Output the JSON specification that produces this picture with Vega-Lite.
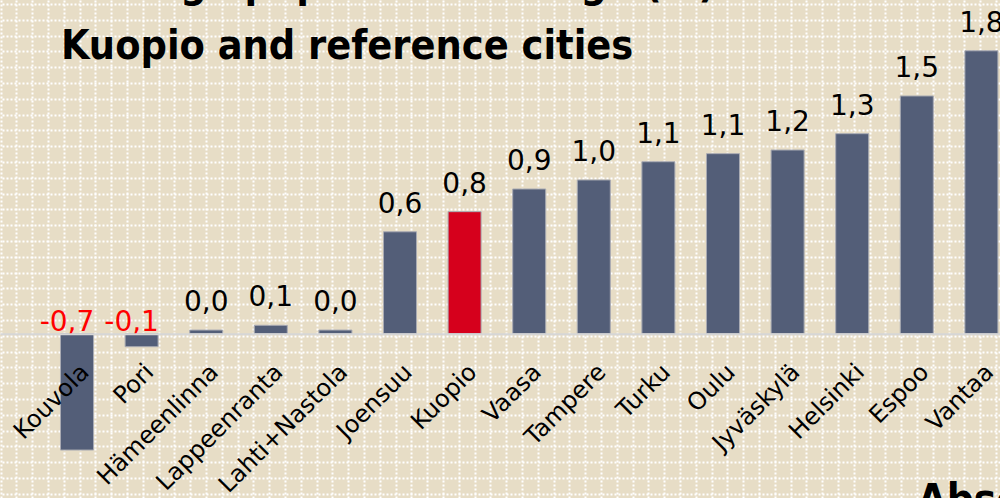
{
  "$schema": "https://vega.github.io/schema/vega-lite/v6.json",
  "width": 1000,
  "height": 498,
  "autosize": {"type": "none"},
  "padding": 0,
  "background": "#e7ddc6",
  "config": {
    "view": {"stroke": null},
    "font": "DejaVu Sans",
    "locale": {"number": {"decimal": ",", "thousands": " ", "grouping": [3], "currency": ["", " €"], "minus": "-"}}
  },
  "title": {
    "text": ["Average population change (%)", "Kuopio and reference cities"],
    "anchor": "start",
    "frame": "group",
    "orient": "top",
    "baseline": "alphabetic",
    "lineHeight": 62,
    "offset": -100,
    "dx": 61,
    "font": "DejaVu Sans Condensed, Liberation Sans Narrow, DejaVu Sans",
    "fontSize": 41,
    "fontWeight": "bold",
    "color": "#000000"
  },
  "data": {
    "values": [
      {"city": "Kouvola", "value": -0.734},
      {"city": "Pori", "value": -0.082},
      {"city": "Hämeenlinna", "value": 0.023},
      {"city": "Lappeenranta", "value": 0.053},
      {"city": "Lahti+Nastola", "value": 0.023},
      {"city": "Joensuu", "value": 0.643},
      {"city": "Kuopio", "value": 0.77},
      {"city": "Vaasa", "value": 0.913},
      {"city": "Tampere", "value": 0.97},
      {"city": "Turku", "value": 1.085},
      {"city": "Oulu", "value": 1.136},
      {"city": "Jyväskylä", "value": 1.159},
      {"city": "Helsinki", "value": 1.262},
      {"city": "Espoo", "value": 1.5},
      {"city": "Vantaa", "value": 1.785}
    ]
  },
  "layer": [
    {
      "mark": {"type": "point", "opacity": 0},
      "encoding": {
        "x": {
          "datum": 0,
          "type": "quantitative",
          "scale": {"domain": [-0.044, 63.25], "nice": false, "zero": false},
          "axis": {"orient": "top", "grid": true, "labels": false, "ticks": false, "domain": false, "title": null,
            "values": [0,1,2,3,4,5,6,7,8,9,10,11,12,13,14,15,16,17,18,19,20,21,22,23,24,25,26,27,28,29,30,31,32,33,34,35,36,37,38,39,40,41,42,43,44,45,46,47,48,49,50,51,52,53,54,55,56,57,58,59,60,61,62,63],
            "gridColor": "#ffffff", "gridDash": [2, 2], "gridWidth": 2, "gridOpacity": 1}
        },
        "y": {
          "datum": 0,
          "type": "quantitative",
          "scale": {"domain": [-0.253, 31.27], "nice": false, "zero": false, "reverse": true},
          "axis": {"orient": "right", "grid": true, "labels": false, "ticks": false, "domain": false, "title": null,
            "values": [0,1,2,3,4,5,6,7,8,9,10,11,12,13,14,15,16,17,18,19,20,21,22,23,24,25,26,27,28,29,30,31],
            "gridColor": "#ffffff", "gridDash": [2, 2], "gridWidth": 2, "gridOpacity": 1}
        }
      }
    },
    {
      "layer": [
        {
          "mark": {"type": "bar", "stroke": "#a9abb3", "strokeWidth": 1},
          "encoding": {
            "x": {
              "field": "city",
              "type": "nominal",
              "sort": null,
              "scale": {"range": [0, 1058.4], "paddingInner": 0.489, "paddingOuter": 0.9365},
              "axis": {
                "orient": "bottom",
                "offset": -164.3,
                "zindex": 1,
                "ticks": false,
                "tickSize": 0,
                "domain": true,
                "domainColor": "#d6d6d6",
                "domainWidth": 2,
                "labelAngle": -45,
                "labelAlign": "right",
                "labelBaseline": "top",
                "labelPadding": 26,
                "labelFontSize": 24,
                "labelColor": "#000000",
                "labelFont": "DejaVu Sans",
                "labelOverlap": false,
                "title": "Absolute change",
                "titleX": 917,
                "titleY": 180,
                "titleAlign": "left",
                "titleAnchor": null,
                "titleBaseline": "alphabetic",
                "titleAngle": 0,
                "titleFontSize": 42,
                "titleFontWeight": "bold",
                "titleFont": "DejaVu Sans Condensed, Liberation Sans Narrow, DejaVu Sans",
                "titleColor": "#000000"
              }
            },
            "y": {
              "field": "value",
              "type": "quantitative",
              "scale": {"domain": [-1.0366, 2.1054], "nice": false, "zero": false},
              "axis": null
            },
            "color": {
              "condition": {"test": "datum.city === 'Kuopio'", "value": "#d6001c"},
              "value": "#535e78"
            }
          }
        },
        {
          "transform": [{"filter": "datum.value >= 0"}],
          "mark": {"type": "text", "baseline": "alphabetic", "dy": -19, "fontSize": 28, "font": "DejaVu Sans", "color": "#000000"},
          "encoding": {
            "x": {"field": "city", "type": "nominal", "sort": null},
            "y": {"field": "value", "type": "quantitative"},
            "text": {"field": "value", "type": "quantitative", "format": ".1f"}
          }
        },
        {
          "transform": [{"filter": "datum.value < 0"}],
          "mark": {"type": "text", "baseline": "alphabetic", "dy": -3, "dx": -10, "fontSize": 28, "font": "DejaVu Sans", "color": "#ff0000"},
          "encoding": {
            "x": {"field": "city", "type": "nominal", "sort": null},
            "y": {"datum": 0, "type": "quantitative"},
            "text": {"field": "value", "type": "quantitative", "format": ".1f"}
          }
        }
      ]
    }
  ],
  "resolve": {"scale": {"x": "independent", "y": "independent"}, "axis": {"x": "independent", "y": "independent"}}
}
